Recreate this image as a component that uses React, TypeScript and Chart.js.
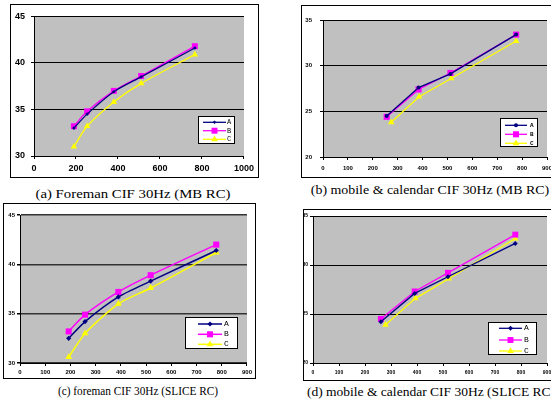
import React, { useEffect, useRef } from "react";
import { Chart, registerables } from "chart.js";
import { drawPoint } from "chart.js/helpers";

Chart.register(...registerables);

// ---------- data ----------
const seriesNames = ["A", "B", "C"];

// (a) Foreman CIF 30Hz (MB RC)
const aRates = [190, 253, 380, 510, 766];
const aSeriesA = [33.0, 34.5, 36.9, 38.5, 41.6];
const aSeriesB = [33.2, 34.8, 37.0, 38.6, 41.8];
const aSeriesC = [31.0, 33.2, 35.8, 37.8, 40.9];

// (b) mobile & calendar CIF 30Hz (MB RC)
const bRatesAB = [256, 384, 512, 776];
const bRatesC = [274, 386, 515, 776];
const bSeriesA = [24.5, 27.6, 29.1, 33.4];
const bSeriesB = [24.4, 27.4, 29.2, 33.4];
const bSeriesC = [23.8, 26.6, 28.6, 32.7];

// (c) foreman CIF 30Hz (SLICE RC)
const cRates = [193, 258, 390, 518, 778];
const cSeriesA = [32.5, 34.2, 36.7, 38.3, 41.4];
const cSeriesB = [33.2, 34.9, 37.2, 38.9, 42.0];
const cSeriesC = [30.6, 33.0, 36.0, 37.6, 41.2];

// (d) mobile & calendar CIF 30Hz (SLICE RC)
const dRatesAB = [261, 391, 519, 778];
const dRatesC = [279, 394, 522, 778];
const dSeriesA = [24.2, 27.1, 28.8, 32.2];
const dSeriesB = [24.5, 27.3, 29.2, 33.1];
const dSeriesC = [23.9, 26.6, 28.6, 32.7];

const captionTexts = [
  "(a) Foreman CIF 30Hz (MB RC)",
  "(b) mobile & calendar CIF 30Hz (MB RC)",
  "(c) foreman CIF 30Hz (SLICE RC)",
  "(d) mobile & calendar CIF 30Hz (SLICE RC)",
];

// ---------- styling ----------
const COLORS = ["#000080", "#ff00ff", "#ffff00"];

type SeriesSpec = { xs: number[]; ys: number[]; style: string; radius: number };
type Panel = {
  box: { left: number; top: number; width: number; height: number };
  plot: { left: number; right: number; top: number; bottom: number };
  xMax: number;
  xStep: number;
  yMin: number;
  yMax: number;
  fontSize: number;
  fontWeight: string;
  padY: number;
  padX: number;
  tension: number;
  lineWidth: number;
  gridColor: string;
  gridWidth: number;
  series: SeriesSpec[];
  legend: {
    left: number; top: number; width: number; height: number;
    rows: number[]; x1: number; x2: number; labelX: number; font: string;
  };
  caption: { text: string; cx: number; top: number; sx: number };
};

const panels: Panel[] = [
  {
    box: { left: 10, top: 4, width: 249, height: 174 },
    plot: { left: 34, right: 248, top: 12, bottom: 156 },
    xMax: 1000, xStep: 200, yMin: 30, yMax: 45,
    fontSize: 9, fontWeight: "bold", padY: 6, padX: 4,
    tension: 0.3, lineWidth: 1.3, gridColor: "#000", gridWidth: 1,
    series: [
      { xs: aRates, ys: aSeriesA, style: "rectRot", radius: 1.8 },
      { xs: aRates, ys: aSeriesB, style: "rect", radius: 4.2 },
      { xs: aRates, ys: aSeriesC, style: "triangle", radius: 3.8 },
    ],
    legend: { left: 198, top: 116, width: 37, height: 28, rows: [122.3, 130.7, 139.3], x1: 203, x2: 226, labelX: 227, font: "7px 'Liberation Mono'" },
    caption: { text: captionTexts[0], cx: 132.5, top: 186, sx: 1.137 },
  },
  {
    box: { left: 301, top: 5, width: 260, height: 173 },
    plot: { left: 323, right: 547, top: 20, bottom: 157 },
    xMax: 900, xStep: 100, yMin: 20, yMax: 35,
    fontSize: 6, fontWeight: "bold", padY: 8, padX: 5,
    tension: 0, lineWidth: 1.3, gridColor: "#000", gridWidth: 1,
    series: [
      { xs: bRatesAB, ys: bSeriesA, style: "circle", radius: 2 },
      { xs: bRatesAB, ys: bSeriesB, style: "rect", radius: 4.3 },
      { xs: bRatesC, ys: bSeriesC, style: "triangle", radius: 3.8 },
    ],
    legend: { left: 500, top: 118, width: 38, height: 29, rows: [125.3, 134.3, 143.3], x1: 505, x2: 527, labelX: 530, font: "bold 6px 'Liberation Mono'" },
    caption: { text: captionTexts[1], cx: 429.5, top: 182, sx: 1.07 },
  },
  {
    box: { left: 3, top: 203, width: 253, height: 176 },
    plot: { left: 20, right: 250, top: 215, bottom: 363 },
    xMax: 900, xStep: 100, yMin: 30, yMax: 45,
    fontSize: 6, fontWeight: "bold", padY: 2, padX: 3,
    tension: 0.25, lineWidth: 1.5, gridColor: "#333", gridWidth: 1.5,
    series: [
      { xs: cRates, ys: cSeriesA, style: "rectRot", radius: 2.6 },
      { xs: cRates, ys: cSeriesB, style: "rect", radius: 4.3 },
      { xs: cRates, ys: cSeriesC, style: "triangle", radius: 3.9 },
    ],
    legend: { left: 185, top: 317, width: 53, height: 32, rows: [324, 334.3, 344.3], x1: 198, x2: 222, labelX: 224, font: "8px 'Liberation Mono'" },
    caption: { text: captionTexts[2], cx: 138, top: 383, sx: 0.867 },
  },
  {
    box: { left: 303, top: 209, width: 258, height: 172 },
    plot: { left: 313, right: 547, top: 216, bottom: 363 },
    xMax: 900, xStep: 100, yMin: 20, yMax: 35,
    fontSize: 5, fontWeight: "bold", padY: 2, padX: 4,
    tension: 0, lineWidth: 1.3, gridColor: "#000", gridWidth: 1,
    series: [
      { xs: dRatesAB, ys: dSeriesA, style: "rectRot", radius: 2.5 },
      { xs: dRatesAB, ys: dSeriesB, style: "rect", radius: 4.2 },
      { xs: dRatesC, ys: dSeriesC, style: "triangle", radius: 3.8 },
    ],
    legend: { left: 488, top: 322, width: 49, height: 33, rows: [328.3, 340, 351], x1: 499, x2: 522, labelX: 524, font: "8px 'Liberation Mono'" },
    caption: { text: captionTexts[3], cx: 431, top: 384, sx: 1.04 },
  },
];

function PanelChart({ p }: { p: Panel }) {
  const ref = useRef<HTMLCanvasElement | null>(null);
  const cw = p.box.width - 2;
  const ch = p.box.height - 2;
  const ox = p.box.left + 1;
  const oy = p.box.top + 1;

  useEffect(() => {
    if (!ref.current) return;
    const plotL = p.plot.left - ox;
    const plotR = p.plot.right - ox;
    const plotT = p.plot.top - oy;
    const plotB = p.plot.bottom - oy;
    const tickFont = { size: p.fontSize, weight: p.fontWeight as any, family: "'Liberation Sans', Arial, sans-serif" };

    const bgPlugin = {
      id: "plotBg",
      beforeDraw(chart: any) {
        const { ctx, chartArea } = chart;
        ctx.save();
        ctx.fillStyle = "#c0c0c0";
        ctx.fillRect(chartArea.left, chartArea.top, chartArea.right - chartArea.left, chartArea.bottom - chartArea.top);
        ctx.restore();
      },
    };

    const legendPlugin = {
      id: "boxLegend",
      afterDraw(chart: any) {
        const ctx = chart.ctx;
        const L = p.legend;
        ctx.save();
        ctx.fillStyle = "#fff";
        ctx.fillRect(L.left - ox, L.top - oy, L.width, L.height);
        ctx.strokeStyle = "#000";
        ctx.lineWidth = 1;
        ctx.strokeRect(L.left - ox + 0.5, L.top - oy + 0.5, L.width - 1, L.height - 1);
        chart.data.datasets.forEach((ds: any, i: number) => {
          const y = L.rows[i] - oy;
          ctx.strokeStyle = ds.borderColor;
          ctx.lineWidth = ds.borderWidth;
          ctx.beginPath();
          ctx.moveTo(L.x1 - ox, y);
          ctx.lineTo(L.x2 - ox, y);
          ctx.stroke();
          ctx.fillStyle = ds.pointBackgroundColor;
          ctx.strokeStyle = ds.pointBorderColor;
          drawPoint(ctx, { pointStyle: ds.pointStyle, radius: ds.pointRadius, rotation: 0, borderWidth: 0 } as any, (L.x1 + L.x2) / 2 - ox, y);
          ctx.fillStyle = "#000";
          ctx.font = L.font;
          ctx.textBaseline = "middle";
          ctx.textAlign = "left";
          ctx.fillText(ds.label, L.labelX - ox, y);
        });
        ctx.restore();
      },
    };

    const chart = new Chart(ref.current, {
      type: "line",
      data: {
        datasets: p.series.map((s, i) => ({
          label: seriesNames[i],
          data: s.xs.map((x, j) => ({ x, y: s.ys[j] })),
          borderColor: COLORS[i],
          backgroundColor: COLORS[i],
          pointBackgroundColor: COLORS[i],
          pointBorderColor: COLORS[i],
          pointBorderWidth: 0,
          pointStyle: s.style as any,
          pointRadius: s.radius,
          borderWidth: p.lineWidth,
          tension: p.tension,
          fill: false,
          clip: false as any,
        })),
      },
      options: {
        responsive: false,
        animation: false,
        devicePixelRatio: 1,
        layout: { padding: { left: 0, top: plotT, right: cw - plotR, bottom: 0 } },
        plugins: { legend: { display: false }, tooltip: { enabled: false }, title: { display: false } },
        events: [],
        scales: {
          x: {
            type: "linear",
            min: 0,
            max: p.xMax,
            ticks: {
              stepSize: p.xStep, font: tickFont, color: "#000", padding: p.padX, maxRotation: 0, autoSkip: false,
              callback: (v: any) => String(v),
            },
            grid: { drawOnChartArea: false, drawTicks: true, tickLength: 3, color: "#000" },
            border: { display: true, color: "#000", width: 1 },
            afterFit: (s: any) => { s.height = ch - plotB; },
          },
          y: {
            type: "linear",
            min: p.yMin,
            max: p.yMax,
            ticks: { stepSize: 5, font: tickFont, color: "#000", padding: p.padY, callback: (v: any) => String(v) },
            grid: { color: p.gridColor, lineWidth: p.gridWidth, drawTicks: true, tickLength: 3, tickColor: "#000" },
            border: { display: true, color: "#000", width: 1 },
            afterFit: (s: any) => { s.width = plotL; },
          },
        },
      },
      plugins: [bgPlugin, legendPlugin],
    });
    return () => chart.destroy();
  }, []);

  return (
    <>
      <div
        style={{
          position: "absolute",
          left: p.box.left,
          top: p.box.top,
          width: p.box.width - 2,
          height: p.box.height - 2,
          border: "1px solid #000",
          background: "#fff",
        }}
      >
        <canvas ref={ref} width={cw} height={ch} style={{ display: "block", width: cw, height: ch }} />
      </div>
      <div
        style={{
          position: "absolute",
          left: p.caption.cx,
          top: p.caption.top,
          transform: `translateX(-50%) scaleX(${p.caption.sx})`,
          whiteSpace: "nowrap",
          fontFamily: "'Liberation Serif', 'Times New Roman', serif",
          fontSize: 13,
          lineHeight: "16px",
          color: "#000",
        }}
      >
        {p.caption.text}
      </div>
    </>
  );
}

export default function App() {
  return (
    <div
      style={{
        position: "fixed",
        left: 0,
        top: 0,
        width: 551,
        height: 405,
        overflow: "hidden",
        background: "#fff",
      }}
    >
      {panels.map((p, i) => (
        <PanelChart key={i} p={p} />
      ))}
    </div>
  );
}
